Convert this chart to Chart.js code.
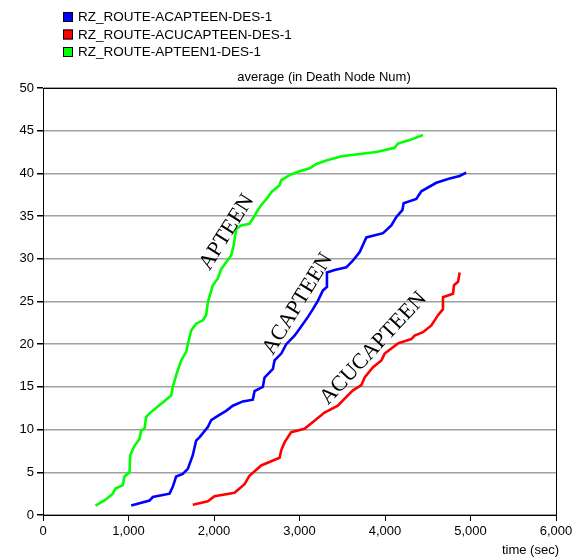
<!DOCTYPE html>
<html>
<head>
<meta charset="utf-8">
<script src="https://cdn.jsdelivr.net/npm/chart.js@4.4.1/dist/chart.umd.min.js"></script>
<style>
  html, body { margin: 0; padding: 0; background: #fff; }
  #wrap { width: 582px; height: 557px; position: relative; }
</style>
</head>
<body>
<div id="wrap"><canvas id="myChart" width="582" height="557"></canvas></div>
<script>
// series names (legend order)
var seriesNames = ["RZ_ROUTE-ACAPTEEN-DES-1", "RZ_ROUTE-ACUCAPTEEN-DES-1", "RZ_ROUTE-APTEEN1-DES-1"];

// ACAPTEEN (blue)
var acapTime = [1032, 1246, 1285, 1480, 1518, 1557, 1635, 1694, 1752, 1791, 1830, 1928, 1967, 2045, 2142, 2220, 2337, 2454, 2474, 2571, 2591, 2689, 2708, 2787, 2845, 2942, 3001, 3099, 3157, 3216, 3274, 3321, 3321, 3411, 3548, 3626, 3704, 3782, 3977, 4074, 4133, 4203, 4218, 4366, 4425, 4600, 4756, 4873, 4950];
var acapNodes = [1.1, 1.7, 2.1, 2.5, 3.3, 4.5, 4.8, 5.4, 7.0, 8.7, 9.1, 10.3, 11.1, 11.6, 12.2, 12.8, 13.3, 13.5, 14.5, 15.0, 16.1, 17.1, 18.1, 18.9, 20.0, 21.0, 21.8, 23.2, 24.1, 25.1, 26.3, 26.7, 28.4, 28.7, 29.0, 29.8, 30.8, 32.5, 33.0, 33.9, 34.9, 35.7, 36.5, 37.0, 37.9, 38.9, 39.4, 39.7, 40.1];

// ACUCAPTEEN (red)
var acucTime = [1752, 1928, 2006, 2240, 2357, 2415, 2552, 2767, 2787, 2825, 2903, 3059, 3293, 3448, 3565, 3626, 3723, 3762, 3860, 3958, 3996, 4152, 4308, 4347, 4444, 4542, 4620, 4678, 4678, 4795, 4807, 4854, 4873];
var acucNodes = [1.2, 1.6, 2.2, 2.6, 3.6, 4.6, 5.8, 6.7, 7.6, 8.5, 9.7, 10.1, 12.0, 12.8, 14.0, 14.6, 15.2, 16.1, 17.3, 18.1, 18.9, 20.1, 20.6, 21.0, 21.4, 22.2, 23.4, 24.1, 25.5, 25.9, 26.9, 27.3, 28.4];

// APTEEN (green)
var aptTime = [614, 719, 817, 848, 933, 953, 1012, 1020, 1070, 1129, 1148, 1187, 1207, 1246, 1499, 1518, 1565, 1616, 1675, 1694, 1733, 1791, 1869, 1908, 1928, 1986, 2045, 2084, 2142, 2201, 2228, 2260, 2318, 2415, 2466, 2513, 2553, 2630, 2670, 2767, 2787, 2884, 2982, 3119, 3197, 3314, 3489, 3899, 4113, 4152, 4288, 4444];
var aptNodes = [1.1, 1.7, 2.5, 3.1, 3.5, 4.5, 5.0, 7.0, 8.1, 8.9, 9.9, 10.1, 11.5, 11.9, 14.0, 15.0, 16.6, 18.1, 19.1, 20.0, 21.6, 22.4, 22.8, 23.4, 24.9, 26.9, 27.7, 28.8, 29.6, 30.4, 31.5, 33.5, 33.9, 34.1, 34.9, 35.7, 36.3, 37.2, 37.8, 38.6, 39.2, 39.8, 40.2, 40.6, 41.1, 41.5, 42.0, 42.5, 43.0, 43.5, 43.9, 44.5];

var colors = ["#0000ff", "#ff0000", "#00ff00"];

function toPoints(xs, ys) {
    var pts = [];
    xs.forEach((x, i) => pts.push({ x: x, y: ys[i] }));
    return pts;
}

var seriesData = [
    toPoints(acapTime, acapNodes),
    toPoints(acucTime, acucNodes),
    toPoints(aptTime, aptNodes),
];

var datasets = [];
seriesData.forEach((pts, i) => {
    datasets.push({
        label: seriesNames[i],
        data: pts,
        borderColor: colors[i],
        backgroundColor: colors[i],
        borderWidth: 2.6,
        pointRadius: 0,
        tension: 0,
        fill: false,
    });
});

// rotated curve labels, placed in data units
var curveLabels = [
    { text: "APTEEN", x: 2150, y: 33.1, angle: -58 },
    { text: "ACAPTEEN", x: 2980, y: 24.7, angle: -58.5 },
    { text: "ACUCAPTEEN", x: 3865, y: 19.5, angle: -47 },
];

var decorations = {
    id: "decorations",
    afterDraw(chart) {
        var ctx = chart.ctx;
        var area = chart.chartArea;
        ctx.save();

        // frame
        ctx.strokeStyle = "#000";
        ctx.lineWidth = 1;
        ctx.strokeRect(Math.round(area.left) + 0.5, Math.round(area.top) + 0.5,
            Math.round(area.right - area.left), Math.round(area.bottom - area.top));

        // legend
        ctx.font = "13.5px 'Liberation Sans', Arial, sans-serif";
        ctx.textBaseline = "middle";
        ctx.textAlign = "left";
        seriesNames.forEach((name, i) => {
            var y = 17 + i * 17.5;
            ctx.fillStyle = colors[i];
            ctx.fillRect(63, y - 5, 10, 10);
            ctx.strokeStyle = "#000";
            ctx.strokeRect(63.5, y - 4.5, 9, 9);
            ctx.fillStyle = "#000";
            ctx.fillText(name, 78, y + 0.5);
        });

        // title
        ctx.font = "13px 'Liberation Sans', Arial, sans-serif";
        ctx.textAlign = "center";
        ctx.fillText("average (in Death Node Num)", 324, 77);

        // x axis title
        ctx.textAlign = "right";
        ctx.fillText("time (sec)", 559, 550);

        // curve labels
        var xs = chart.scales.x, ys = chart.scales.y;
        ctx.font = "22px 'Liberation Serif', 'Times New Roman', serif";
        ctx.textAlign = "center";
        curveLabels.forEach((lab) => {
            ctx.save();
            ctx.translate(xs.getPixelForValue(lab.x), ys.getPixelForValue(lab.y));
            ctx.rotate(lab.angle * Math.PI / 180);
            ctx.fillText(lab.text, 0, 0);
            ctx.restore();
        });

        ctx.restore();
    },
};

var chart = new Chart(document.getElementById("myChart"), {
    type: "line",
    data: { datasets: datasets },
    plugins: [decorations],
    options: {
        responsive: false,
        animation: false,
        layout: { padding: { top: 88, right: 26, left: 0, bottom: 0 } },
        plugins: {
            legend: { display: false },
            title: { display: false },
            tooltip: { enabled: false },
        },
        scales: {
            x: {
                type: "linear",
                min: 0,
                max: 6000,
                afterFit(scale) { scale.height = 42; },
                border: { color: "#000", width: 1 },
                grid: { drawOnChartArea: false, tickLength: 6, tickColor: "#000" },
                ticks: {
                    stepSize: 1000,
                    color: "#000",
                    padding: 3,
                    maxRotation: 0,
                    font: { family: "'Liberation Sans', Arial, sans-serif", size: 13 },
                },
            },
            y: {
                min: 0,
                max: 50,
                afterFit(scale) { scale.width = 43; },
                border: { color: "#000", width: 1 },
                grid: { color: "#a0a0a0", lineWidth: 1.5, tickLength: 6, tickColor: "#000" },
                ticks: {
                    stepSize: 5,
                    color: "#000",
                    padding: 3,
                    font: { family: "'Liberation Sans', Arial, sans-serif", size: 13 },
                },
            },
        },
    },
});
</script>
</body>
</html>
